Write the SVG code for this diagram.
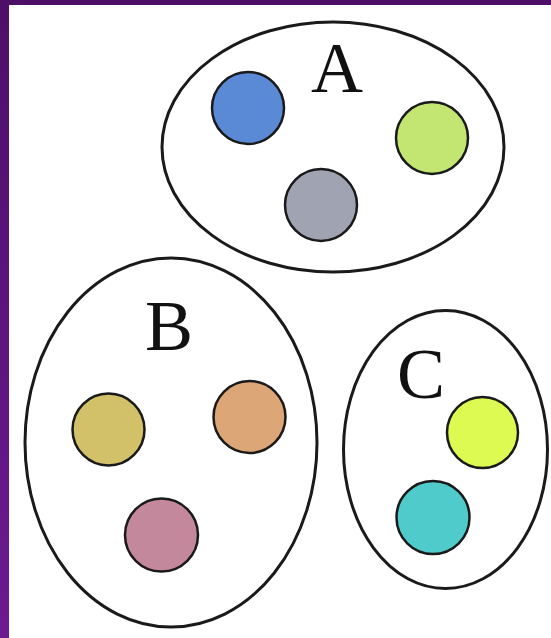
<svg xmlns="http://www.w3.org/2000/svg" width="551" height="638" viewBox="0 0 551 638">
<defs>
<linearGradient id="lg" x1="0" y1="0" x2="0" y2="1">
<stop offset="0" stop-color="#4e0f68"/>
<stop offset="1" stop-color="#6c1a92"/>
</linearGradient>
<style>
.set{fill:#fff;stroke:#1a1a1a;stroke-width:3}
.dot{stroke:#1a1a1a;stroke-width:2.5}
.lbl{font-family:"Liberation Serif","Times New Roman",serif;font-size:72px;fill:#111;text-anchor:middle}
</style>
</defs>
<rect width="551" height="638" fill="#fff"/>
<rect x="0" y="0" width="551" height="5" fill="#4e0f68"/>
<rect x="0" y="0" width="9" height="638" fill="url(#lg)"/>
<g id="setA">
<ellipse class="set" cx="333" cy="147" rx="171" ry="125"/>
<text class="lbl" x="337" y="92">A</text>
<circle class="dot" cx="248" cy="108" r="36" fill="#5a89d6"/>
<circle class="dot" cx="432" cy="138" r="36" fill="#c3e673"/>
<circle class="dot" cx="321" cy="205" r="36" fill="#a0a3b1"/>
</g>
<g id="setB">
<ellipse class="set" cx="171" cy="442.5" rx="146" ry="184.5"/>
<text class="lbl" x="169" y="350">B</text>
<circle class="dot" cx="108.5" cy="429.5" r="36" fill="#d2c168"/>
<circle class="dot" cx="249.5" cy="417" r="36" fill="#dca676"/>
<circle class="dot" cx="161.5" cy="535" r="36.5" fill="#c4889c"/>
</g>
<g id="setC">
<ellipse class="set" cx="445.5" cy="449.5" rx="102" ry="139"/>
<text class="lbl" x="421" y="398">C</text>
<circle class="dot" cx="482.5" cy="432.5" r="35.5" fill="#dcfa52"/>
<circle class="dot" cx="433" cy="517.5" r="36.5" fill="#50cbcb"/>
</g>
<g id="connectors"/>
</svg>
